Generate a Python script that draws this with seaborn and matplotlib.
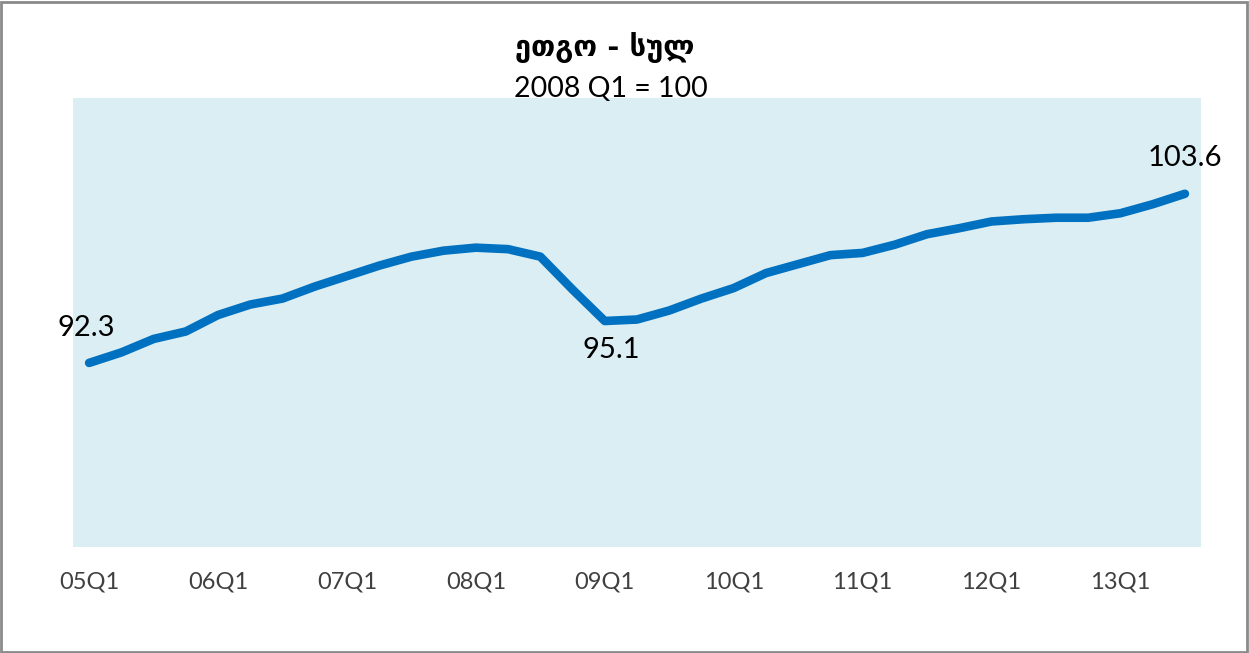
import matplotlib
matplotlib.use("Agg")
import matplotlib.pyplot as plt
import matplotlib.patches as patches
import seaborn as sns
import pandas as pd
import numpy as np

quarters = ["05Q1","05Q2","05Q3","05Q4","06Q1","06Q2","06Q3","06Q4",
            "07Q1","07Q2","07Q3","07Q4","08Q1","08Q2","08Q3","08Q4",
            "09Q1","09Q2","09Q3","09Q4","10Q1","10Q2","10Q3","10Q4",
            "11Q1","11Q2","11Q3","11Q4","12Q1","12Q2","12Q3","12Q4",
            "13Q1","13Q2","13Q3"]
values = [92.3, 93.0, 93.9, 94.4, 95.5, 96.2, 96.6, 97.4,
          98.1, 98.8, 99.4, 99.8, 100.0, 99.9, 99.4, 97.2,
          95.1, 95.2, 95.8, 96.6, 97.3, 98.3, 98.9, 99.5,
          99.65, 100.2, 100.9, 101.3, 101.75, 101.9, 102.0, 102.0,
          102.3, 102.9, 103.6]
tick_labels = ["05Q1","06Q1","07Q1","08Q1","09Q1","10Q1","11Q1","12Q1","13Q1"]
annotated = {0: "92.3", 16: "95.1", 34: "103.6"}
title = "ეთგო - სულ"
subtitle = "2008 Q1 = 100"

sns.set_theme(style="white")
plt.rcParams['font.family'] = ['Lato', 'DejaVu Sans']

df = pd.DataFrame({"idx": np.arange(len(quarters)), "q": quarters, "v": values})

fig = plt.figure(figsize=(12.49, 6.53), dpi=100)
ax = fig.add_axes([73/1249, 1-547/653, (1201-73)/1249, (547-98)/653])
ax.set_facecolor("#DAEEF3")
sns.lineplot(data=df, x="idx", y="v", ax=ax, color="#0070C0", linewidth=6.2,
             solid_capstyle="round", solid_joinstyle="round")
ax.set_xlim(-0.5, len(quarters) - 0.5)
ax.set_ylim(80, 110)
ax.set_yticks([])
ax.set_xlabel("")
ax.set_ylabel("")
tick_pos = [quarters.index(t) for t in tick_labels]
ax.set_xticks(tick_pos)
ax.set_xticklabels(tick_labels, fontsize=17, color="#404040")
ax.tick_params(axis="x", length=0, pad=18)
for s in ax.spines.values():
    s.set_visible(False)

offsets = {0: (-2, 25), 16: (5, -21), 34: (0, 26)}
for i, lab in annotated.items():
    ax.annotate(lab, (i, values[i]), xytext=offsets[i], textcoords="offset points",
                ha="center", va="center", fontsize=21, color="#000000",
                annotation_clip=False)

fig.text(605/1249, 1-48/653, title, ha="center", va="center", fontsize=21,
         fontweight="bold", color="#000000", family=['DejaVu Sans'])
fig.text(611/1249, 1-89/653, subtitle, ha="center", va="center", fontsize=20.5,
         color="#000000", zorder=10)

fig.patches.append(patches.Rectangle((0.001, 0.002), 0.997, 0.995, transform=fig.transFigure,
                                     fill=False, edgecolor="#8A8A8A", linewidth=2))

fig.savefig("out.png", dpi=100)
